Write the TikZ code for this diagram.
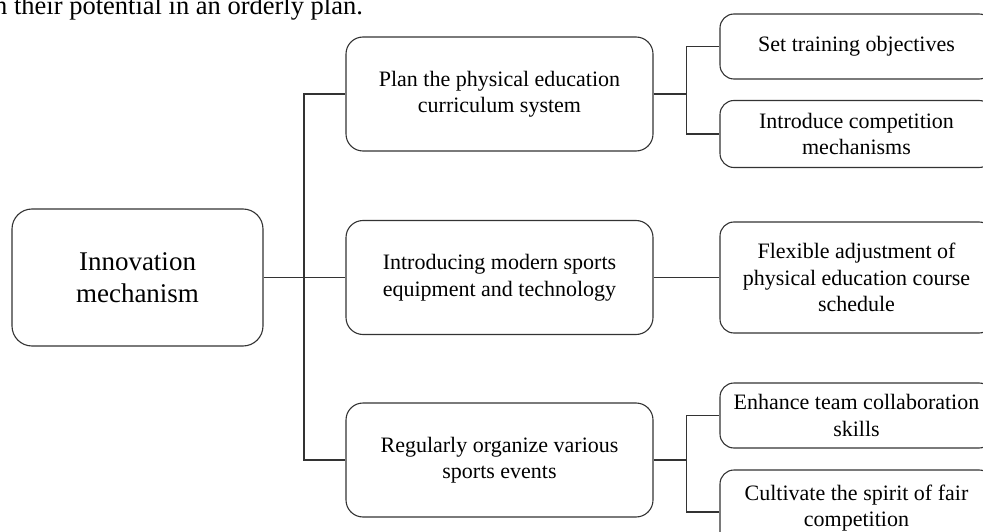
\documentclass[tikz,border=0pt]{standalone}
\usepackage{fontspec}
\setmainfont{Liberation Serif}

\begin{document}
\begin{tikzpicture}[x=1pt,y=-1pt,
  box/.style={draw=black!80,line width=1.1pt,align=center,inner sep=0pt,font=\fontsize{22}{26.5}\selectfont},
  rootbox/.style={box,rounded corners=20pt,minimum width=251pt,minimum height=137pt,font=\fontsize{27}{32}\selectfont},
  midbox/.style={box,rounded corners=17pt,minimum width=307pt,minimum height=114pt},
  leafbox/.style={box,rounded corners=14pt,minimum width=273pt},
  link/.style={draw=black!80,line width=1.1pt}]

\useasboundingbox (0,0) rectangle (983,532);
\clip (0,0) rectangle (983,532);

% text line above the figure
\node[anchor=base west,inner sep=0pt,font=\fontsize{26.5}{31}\selectfont] (bodyline) at (-6,15) {n their potential in an orderly plan.};

% innovation node
\node[rootbox] (root) at (137.5,277.5) {Innovation\\mechanism};

% curriculum node
\node[midbox] (plan) at (499.5,94) {Plan the physical education\\curriculum system};

% equipment node
\node[midbox] (sports) at (499.5,277.5) {Introducing modern sports\\equipment and technology};

% events node
\node[midbox] (events) at (499.5,460) {Regularly organize various\\sports events};

% curriculum leaves
\node[leafbox,minimum height=65pt] (goals) at (856.5,46.5) {Set training objectives};
\node[leafbox,minimum height=67pt] (contest) at (856.5,134) {Introduce competition\\mechanisms};

% equipment leaf
\node[leafbox,minimum height=111pt] (schedule) at (856.5,277.5) {Flexible adjustment of\\physical education course\\schedule};

% events leaves
\node[leafbox,minimum height=65pt] (teamwork) at (856.5,415.5) {Enhance team collaboration\\skills};
\node[leafbox,minimum height=76pt] (fairplay) at (856.5,508) {Cultivate the spirit of fair\\competition};

% main bus
\coordinate (hub) at (304,277.5);
\draw[link] (root.east) -- (hub);
\draw[link] (hub) |- (plan.west);
\draw[link] (hub) |- (sports.west);
\draw[link] (hub) |- (events.west);

% curriculum bus
\coordinate (planhub) at (686.5,94);
\draw[link] (plan.east) -- (planhub);
\draw[link] (planhub) |- (goals.west);
\draw[link] (planhub) |- (contest.west);

\draw[link] (sports.east) -- (schedule.west);

% events bus
\coordinate (eventhub) at (686.5,460);
\draw[link] (events.east) -- (eventhub);
\draw[link] (eventhub) |- (teamwork.west);
\draw[link] (eventhub) |- ([yshift=-4pt]fairplay.west);

\end{tikzpicture}
\end{document}
